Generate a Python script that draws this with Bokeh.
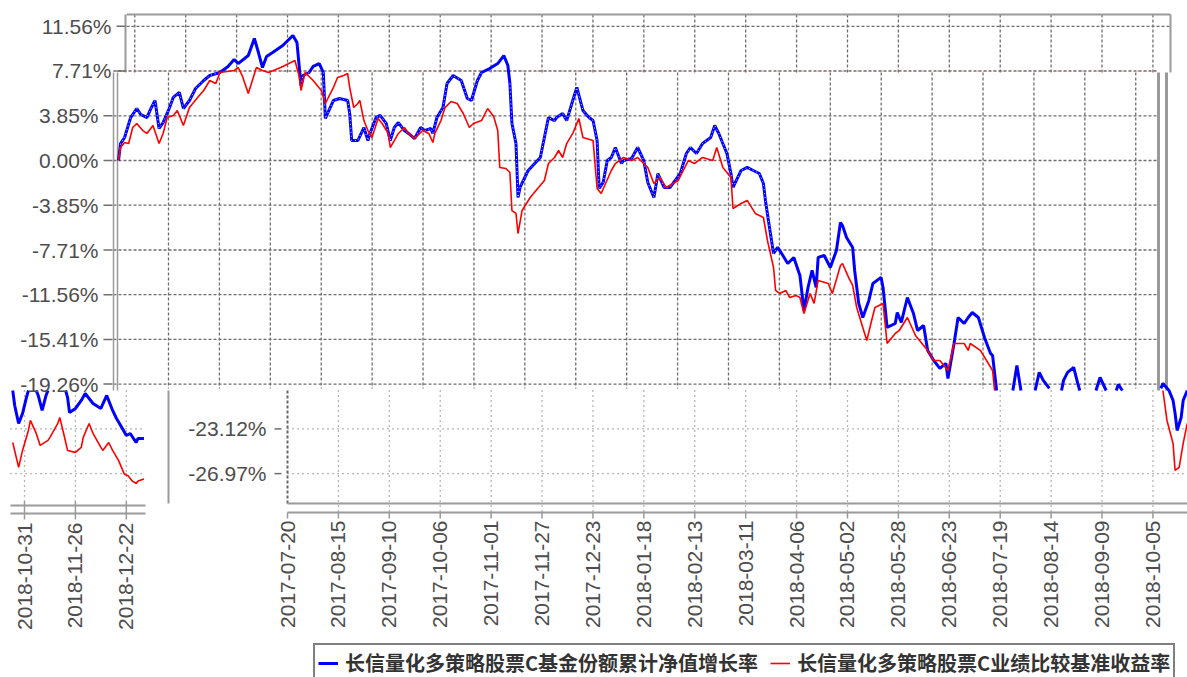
import numpy as np
import pandas as pd
from bokeh.plotting import figure
from bokeh.models import Range1d, Legend, LegendItem
from bokeh.core.properties import value
from bokeh.embed import file_html
from bokeh.resources import INLINE

# ---------------- data ----------------
START = "2017-07-20"
INSET_START = "2018-10-31"

blue_days = [0, 1, 3, 6, 9, 11, 14, 16, 18, 20,
             22, 25, 27, 30, 32, 35, 38, 42, 45, 50,
             54, 57, 59, 64, 67, 69, 71, 73, 76, 81,
             86, 88, 90, 91, 94, 96, 99, 101, 102, 106,
             109, 113, 114, 115, 118, 121, 123, 124, 127, 129,
             132, 134, 136, 138, 141, 143, 146, 149, 151, 154,
             155, 157, 160, 162, 165, 169, 172, 174, 177, 179,
             183, 187, 190, 192, 193, 194, 196, 197, 198, 202,
             208, 212, 215, 216, 219, 221, 224, 226, 229, 232,
             234, 236, 237, 239, 241, 243, 245, 248, 249, 253,
             256, 259, 261, 264, 266, 269, 272, 277, 280, 282,
             285, 288, 292, 294, 296, 298, 300, 302, 303, 307,
             310, 313, 316, 318, 319, 321, 323, 325, 327, 330,
             333, 336, 338, 340, 342, 344, 345, 348, 351, 354,
             356, 357, 359, 362, 363, 365, 367, 370, 372, 376,
             377, 379, 383, 384, 386, 389, 392, 394, 397, 399,
             402, 405, 408, 409, 412, 414, 417, 419, 421, 424,
             427, 430, 431, 433, 437, 441, 443, 445, 448, 452,
             454, 456, 459, 462, 465, 466, 468, 471, 473, 474,
             478, 482, 484, 487, 490, 492, 493, 495, 505, 514,
             515, 518, 520, 521, 522, 524, 525, 527]
nan = float("nan")
blue_vals = [0.00, 1.46, 1.98, 3.70, 4.48, 3.96, 3.70, 4.48, 5.17, 2.76,
             3.27, 4.48, 5.43, 5.86, 4.48, 5.17, 6.20, 6.89, 7.32, 7.58,
             8.10, 8.70, 8.35, 9.04, 10.51, 9.30, 8.01, 8.96, 9.30, 9.90,
             10.77, 10.16, 6.46, 7.32, 7.58, 8.10, 8.35, 7.58, 3.62, 5.17,
             5.34, 5.17, 4.05, 1.72, 1.72, 2.84, 1.72, 2.33, 3.70, 3.88,
             3.19, 1.72, 2.84, 3.27, 2.58, 2.33, 1.89, 2.84, 2.58, 2.76,
             2.33, 3.70, 4.56, 6.63, 7.32, 6.89, 5.34, 5.17, 6.89, 7.58,
             7.92, 8.35, 9.04, 8.18, 6.63, 3.19, 1.46, -3.19, -2.32, -0.86,
             0.26, 3.70, 3.44, 3.70, 4.05, 3.44, 5.17, 6.29, 4.31, 3.70,
             3.44, 1.72, -2.41, -1.89, 0.00, 0.26, 1.12, -0.26, 0.00, 0.17,
             1.12, 0.00, -1.89, -3.19, -1.12, -2.32, -2.32, -1.12, 0.60, 1.12,
             0.60, 1.46, 1.98, 3.01, 2.33, 1.46, 0.60, -1.12, -2.32, -0.86,
             -0.60, -0.86, -1.12, -1.98, -3.44, -5.77, -8.01, -7.49, -8.01, -8.87,
             -8.35, -9.90, -12.92, -10.94, -9.47, -10.94, -8.35, -8.18, -9.22, -7.75,
             -5.34, -5.60, -6.63, -7.49, -9.47, -12.31, -13.52, -12.05, -10.59, -10.07,
             -10.94, -14.38, -14.04, -13.09, -13.95, -11.80, -13.18, -14.64, -14.21, -16.36,
             -17.23, -17.91, -17.48, -18.78, -15.76, -13.52, -14.04, -13.52, -13.09, -13.52,
             -15.24, -16.62, -16.79, -19.81, nan, -19.81, -17.65, -19.81, nan, -19.81,
             -18.25, -18.94, -19.63, nan, -19.81, -18.94, -18.25, -17.82, -19.20, -19.81,
             nan, -19.81, -18.69, -19.81, nan, -19.81, -19.29, -19.81, nan, -19.63,
             -19.20, -19.81, -20.66, -21.78, -23.25, -22.13, -20.66, -19.81]

red_days = [0, 1, 3, 5, 7, 9, 12, 14, 17, 20,
            22, 24, 27, 29, 32, 35, 39, 42, 45, 48,
            50, 57, 59, 61, 64, 66, 68, 71, 74, 80,
            85, 87, 89, 90, 92, 96, 100, 102, 106, 108,
            111, 113, 114, 116, 118, 119, 121, 123, 125, 128,
            130, 133, 134, 136, 138, 141, 143, 146, 150, 153,
            155, 156, 159, 161, 164, 167, 170, 173, 175, 179,
            182, 185, 187, 188, 191, 193, 194, 196, 197, 199,
            203, 210, 212, 215, 217, 219, 221, 224, 227, 229,
            234, 236, 238, 243, 245, 249, 253, 256, 261, 264,
            267, 270, 276, 281, 284, 288, 293, 295, 298, 302,
            303, 307, 310, 314, 318, 320, 323, 324, 326, 329,
            331, 334, 336, 338, 341, 343, 345, 350, 352, 356,
            357, 360, 362, 364, 367, 369, 371, 373, 377, 379,
            383, 385, 389, 393, 395, 399, 402, 405, 409, 412,
            414, 417, 419, 420, 425, 431, 432, 470, 515, 517,
            520, 521, 523, 525, 527]
red_vals = [0.00, 1.12, 1.55, 1.46, 2.84, 3.19, 2.58, 2.33, 3.01, 1.46,
            2.33, 3.70, 3.88, 4.31, 3.01, 4.56, 5.43, 6.03, 6.89, 6.63,
            7.58, 7.75, 8.01, 7.32, 5.77, 6.89, 8.01, 7.75, 7.58, 8.01,
            8.44, 8.61, 7.32, 6.03, 7.58, 6.89, 6.03, 4.91, 6.29, 7.15,
            7.32, 7.49, 6.29, 4.56, 4.91, 5.17, 3.44, 2.58, 1.98, 3.62,
            3.19, 2.33, 1.12, 1.72, 2.33, 2.84, 2.33, 1.89, 2.58, 2.33,
            1.55, 2.33, 3.44, 4.56, 5.08, 4.91, 4.05, 2.84, 3.19, 3.44,
            4.48, 3.79, 2.58, -0.60, -0.69, -1.03, -4.31, -4.56, -6.29, -4.31,
            -3.19, -1.72, -0.26, 0.26, 0.86, 0.26, 1.46, 2.33, 3.62, 1.98,
            1.72, -2.41, -2.84, -0.86, -0.26, 0.26, 0.00, 0.26, -0.60, -1.98,
            -1.46, -2.32, -1.72, 0.00, -0.26, 0.26, 0.00, 1.12, -0.60, -1.46,
            -4.13, -3.70, -3.44, -4.56, -4.91, -6.89, -9.22, -11.19, -11.45, -11.19,
            -11.80, -11.62, -11.80, -13.18, -11.45, -12.31, -10.33, -10.59, -11.45, -9.04,
            -8.87, -10.07, -10.76, -12.66, -14.38, -15.50, -14.04, -12.66, -12.31, -15.76,
            -14.90, -14.64, -13.52, -15.07, -15.50, -16.36, -17.23, -17.23, -18.09, -15.76,
            -15.76, -15.76, -16.36, -15.76, -16.36, -18.09, -19.81, nan, -19.81, -22.39,
            -24.37, -26.69, -26.43, -24.37, -22.64]

inset_blue_days = [-6, -5, -3, -1, 1, 2, 4, 6, 7, 9,
                   11, 12, 16, 21, 22, 23, 26, 29, 31, 35,
                   39, 42, 45, 47, 50, 52, 54, 57, 58, 61]
inset_blue_vals = [-19.81, -21.10, -22.65, -21.79, -20.41, -19.81, nan, -19.81, -20.24, -21.53,
                   -20.24, -19.81, nan, -19.81, -20.41, -21.70, -21.36, -20.67, -20.07, -20.93,
                   -21.36, -20.24, -21.53, -22.22, -23.08, -23.69, -23.51, -24.29, -23.94, -23.94]
inset_red_days = [-6, -3, -1, 2, 3, 6, 8, 12, 13, 15,
                  17, 18, 20, 22, 26, 29, 30, 33, 35, 39,
                  40, 43, 45, 48, 51, 53, 55, 57, 58, 61]
inset_red_vals = [-24.29, -26.43, -24.97, -23.25, -22.39, -23.51, -24.54, -24.11, -23.85, -23.25,
                  -22.65, -22.13, -23.51, -24.97, -25.14, -24.71, -23.85, -22.65, -23.51, -24.71,
                  -24.97, -24.29, -24.97, -25.83, -27.01, -27.18, -27.61, -27.81, -27.61, -27.44]

y_top_labels = ["11.56%", "7.71%"]
y_main_labels = ["3.85%", "0.00%", "-3.85%", "-7.71%", "-11.56%", "-15.41%", "-19.26%"]
y_low_labels = ["-23.12%", "-26.97%"]

x_main_labels = ["2017-07-20", "2017-08-15", "2017-09-10", "2017-10-06", "2017-11-01",
                 "2017-11-27", "2017-12-23", "2018-01-18", "2018-02-13", "2018-03-11",
                 "2018-04-06", "2018-05-02", "2018-05-28", "2018-06-23", "2018-07-19",
                 "2018-08-14", "2018-09-09", "2018-10-05"]
x_inset_labels = ["2018-10-31", "2018-11-26", "2018-12-22"]

LEG_BLUE = "长信量化多策略股票C基金份额累计净值增长率"
LEG_RED = "长信量化多策略股票C业绩比较基准收益率"

# ---------------- layout ----------------
W, H = 1187, 677
LEFT, TOP = 0, 0
DAY = 86400000.0
PX_PER_PCT = 11.61
ZERO_PY = 160


def ms(ts):
    return pd.Timestamp(ts).value / 1e6


def date_range_for(anchor, anchor_px, px_per_day):
    start = ms(anchor) - (anchor_px - LEFT) / px_per_day * DAY
    return Range1d(start=start, end=start + W / px_per_day * DAY)


y_top = (ZERO_PY - TOP) / PX_PER_PCT
y_bot = y_top - H / PX_PER_PCT

main_r = date_range_for(START, 118, 2.028)
axis_r = date_range_for(START, 287, 1.958)
grid_r = date_range_for(START, 168, 1.958)
inset_r = date_range_for(INSET_START, 24, 1.958)


def PX(px):
    return main_r.start + (px - LEFT) * (main_r.end - main_r.start) / W


def PY(py):
    return y_top - (py - TOP) / PX_PER_PCT


def to_ms(anchor, days):
    return [ms(anchor) + d * DAY for d in days]


p = figure(width=W, height=H, x_range=main_r, y_range=Range1d(y_bot, y_top),
           output_backend="svg", toolbar_location=None,
           x_axis_location=None, y_axis_location=None,
           min_border=0, outline_line_color=None, title=None)
p.extra_x_ranges = {"axis": axis_r, "grid": grid_r, "inset": inset_r}
p.xgrid.visible = False
p.ygrid.visible = False
p.background_fill_color = "white"

GRAY = "#6e6e6e"
FRAME = "#9a9a9a"
DASH = "3 2"

step_ms = 26 * DAY
t0 = ms(START)

top_vals = [float(s[:-1]) for s in y_top_labels]
main_vals = [float(s[:-1]) for s in y_main_labels]
low_vals = [float(s[:-1]) for s in y_low_labels]

# ----- top strip -----
p.segment(x0=[PX(126)], y0=[top_vals[0]], x1=[PX(1170)], y1=[top_vals[0]],
          line_color=GRAY, line_dash=DASH, line_width=1.3)
top_grid = [t0 + k * step_ms for k in range(-3, 18)]
p.segment(x0=top_grid, y0=[PY(14)] * len(top_grid), x1=top_grid, y1=[PY(72)] * len(top_grid),
          x_range_name="axis", line_color=GRAY, line_dash=DASH, line_width=1.3)
p.segment(x0=[PX(126), PX(125), PX(1170)], y0=[PY(14), PY(14), PY(14)],
          x1=[PX(1170), PX(125), PX(1170)], y1=[PY(14), PY(72), PY(72)],
          line_color=FRAME, line_width=2)
p.segment(x0=[PX(116)] * 2, y0=top_vals, x1=[PX(125)] * 2, y1=top_vals,
          line_color=GRAY, line_width=1.5)

# ----- main region -----
hv = [top_vals[1]] + main_vals
p.segment(x0=[PX(113)] * len(hv), y0=hv, x1=[PX(1157)] * len(hv), y1=hv,
          line_color=GRAY, line_dash=DASH, line_width=1.3)
p.segment(x0=[PX(113)], y0=[top_vals[1]], x1=[PX(1157)], y1=[top_vals[1]],
          line_color="#ff6060", line_dash="1 7", line_width=1.3)
main_grid = [t0 + k * step_ms for k in range(0, 20)]
p.segment(x0=main_grid, y0=[PY(72)] * len(main_grid), x1=main_grid, y1=[PY(388)] * len(main_grid),
          x_range_name="grid", line_color=GRAY, line_dash=DASH, line_width=1.3)
p.segment(x0=[PX(113), PX(117)], y0=[PY(72)] * 2, x1=[PX(113), PX(117)], y1=[PY(390)] * 2,
          line_color=FRAME, line_width=1.5)
p.segment(x0=[PX(1158), PX(1166)], y0=[PY(72)] * 2, x1=[PX(1158), PX(1166)], y1=[PY(390)] * 2,
          line_color=FRAME, line_width=3)
p.segment(x0=[PX(103)] * len(main_vals), y0=main_vals, x1=[PX(112)] * len(main_vals), y1=main_vals,
          line_color=GRAY, line_width=1.5)

# ----- lower region -----
low_grid = [t0 + k * step_ms for k in range(1, 18)]
p.segment(x0=low_grid, y0=[PY(390)] * len(low_grid), x1=low_grid, y1=[PY(512)] * len(low_grid),
          x_range_name="axis", line_color=GRAY, line_dash="1 4", line_width=1.3)
p.segment(x0=[PX(287)] * 2, y0=low_vals, x1=[PX(1187)] * 2, y1=low_vals,
          line_color=GRAY, line_dash="1 4", line_width=1.3)
p.segment(x0=[t0], y0=[PY(390)], x1=[t0], y1=[PY(503)], x_range_name="axis",
          line_color="#666666", line_dash=DASH, line_width=2)
p.segment(x0=[PX(287), PX(287)], y0=[PY(503), PY(512)], x1=[PX(1187), PX(1187)], y1=[PY(503), PY(512)],
          line_color=FRAME, line_width=2)
axis_ticks = [ms(d) for d in x_main_labels]
p.segment(x0=axis_ticks, y0=[PY(512)] * len(axis_ticks), x1=axis_ticks, y1=[PY(518)] * len(axis_ticks),
          x_range_name="axis", line_color=FRAME, line_width=1.5)
p.segment(x0=[PX(274)] * 2, y0=low_vals, x1=[PX(281)] * 2, y1=low_vals,
          line_color=GRAY, line_width=1.5)
p.segment(x0=[PX(168)], y0=[PY(390)], x1=[PX(168)], y1=[PY(503)], line_color=FRAME, line_width=2)

# ----- inset -----
inset_ticks = [ms(d) for d in x_inset_labels]
p.segment(x0=inset_ticks, y0=[PY(390)] * 3, x1=inset_ticks, y1=[PY(505)] * 3,
          x_range_name="inset", line_color=GRAY, line_dash="1 4", line_width=1.3)
p.segment(x0=[PX(10)] * 2, y0=low_vals, x1=[PX(145)] * 2, y1=low_vals,
          line_color=GRAY, line_dash="1 4", line_width=1.3)
p.segment(x0=[PX(10), PX(10)], y0=[PY(505), PY(513)], x1=[PX(145), PX(145)], y1=[PY(505), PY(513)],
          line_color=FRAME, line_width=2)
p.segment(x0=inset_ticks, y0=[PY(501)] * 3, x1=inset_ticks, y1=[PY(519)] * 3,
          x_range_name="inset", line_color=FRAME, line_width=1.5)

# ----- data lines -----
bx = to_ms(START, blue_days)
rb = p.line(bx, blue_vals, line_color="#0000ff", line_width=3)
limit = top_vals[1]
core = [v if (v <= limit and d <= 325) else nan for d, v in zip(blue_days, blue_vals)]
p.line(bx, core, line_color="white", line_width=1, line_dash="1 3", line_alpha=0.85)
rr = p.line(to_ms(START, red_days), red_vals, line_color="#ff0000", line_width=1.6)
p.line(to_ms(INSET_START, inset_blue_days), inset_blue_vals, x_range_name="inset",
       line_color="#0000ff", line_width=3)
p.line(to_ms(INSET_START, inset_red_days), inset_red_vals, x_range_name="inset",
       line_color="#ff0000", line_width=1.6)

# ----- labels -----
FONT = value("Liberation Sans")
LBL = dict(text_font=FONT, text_font_size="21px", text_color="#4d4d4d",
           text_baseline="middle")
p.text(x=[PX(111)] * 2, y=top_vals, text=y_top_labels, text_align="right", **LBL)
p.text(x=[PX(98)] * len(main_vals), y=main_vals, text=y_main_labels, text_align="right", **LBL)
p.text(x=[PX(266)] * 2, y=low_vals, text=y_low_labels, text_align="right", **LBL)
p.text(x=axis_ticks, y=[PY(520)] * len(axis_ticks), text=x_main_labels, angle=np.pi / 2,
       text_align="right", x_range_name="axis", **LBL)
p.text(x=inset_ticks, y=[PY(522)] * 3, text=x_inset_labels, angle=np.pi / 2,
       text_align="right", x_range_name="inset", **LBL)

legend = Legend(items=[LegendItem(label=LEG_BLUE, renderers=[rb]),
                       LegendItem(label=LEG_RED, renderers=[rr])],
                orientation="horizontal", location=(313, -5), margin=0,
                border_line_color="black", border_line_width=2,
                padding=3, spacing=12, label_standoff=7,
                glyph_width=20, glyph_height=20, label_height=20,
                label_text_font="Noto Sans CJK SC", label_text_font_style="bold",
                label_text_font_size="20px", label_text_color="#333333",
                background_fill_color="white", background_fill_alpha=1)
p.add_layout(legend)

open("out.html", "w").write(file_html(p, INLINE))
